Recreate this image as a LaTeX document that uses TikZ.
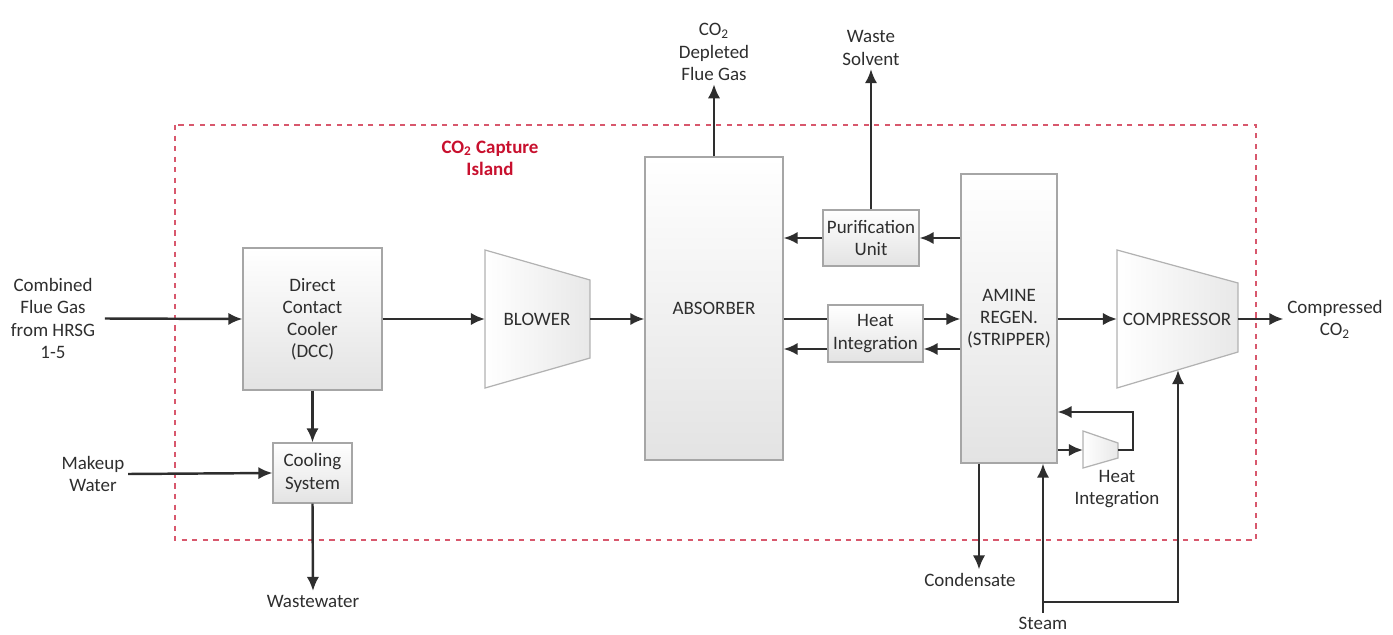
\documentclass[tikz,border=0pt]{standalone}
\usepackage{fontspec}
\setmainfont{Carlito}
\usetikzlibrary{arrows.meta,positioning}
\definecolor{linegray}{HTML}{2E2E2E}
\definecolor{islandred}{HTML}{C8102E}
\begin{document}
\begin{tikzpicture}[
    x=0.02cm, y=-0.02cm,
    font=\fontsize{10.8}{12.6}\selectfont,
    text=linegray,
    >={Latex[length=8pt,width=7pt]},
    % Stile per le unita di processo
    unit/.style={
        draw=gray!70,
        line width=0.7pt,
        top color=white,
        bottom color=gray!22,
        align=center,
        inner sep=2pt
    },
    % Stile per le macchine (trapezi)
    machine/.style={
        draw=gray!60,
        line width=0.7pt,
        left color=white,
        right color=gray!18
    },
    flow/.style={->, draw=linegray, line width=1.4pt},
    pipe/.style={draw=linegray, line width=1.4pt},
    label/.style={align=center, inner sep=2pt}
]
\useasboundingbox (0,0) rectangle (1393,635);

% --- Isola di cattura ---
\draw[islandred!70, dashed, line width=0.6pt] (175,125) rectangle (1256,540);
\node[label, text=islandred, font=\fontsize{10.8}{12.6}\selectfont\bfseries] (island) at (490,158) {CO\textsubscript{2} Capture\\Island};

% --- Unita ---
\node[unit, minimum width=2.78cm, minimum height=2.84cm] (dcc) at (312.5,319) {Direct\\Contact\\Cooler\\(DCC)};
\node[unit, minimum width=1.58cm, minimum height=1.2cm] (cooling) at (312.5,473) {Cooling\\System};
\node[unit, minimum width=2.76cm, minimum height=6.06cm] (absorber) at (714,308.5) {ABSORBER};
\node[unit, minimum width=1.92cm, minimum height=1.12cm] (purif) at (871,238) {Purification\\Unit};
\node[unit, minimum width=1.9cm, minimum height=1.14cm] (heat) at (875.5,333.5) {Heat\\Integration};
\node[unit, minimum width=1.92cm, minimum height=5.78cm] (stripper) at (1009,318.5) {AMINE\\REGEN.\\(STRIPPER)};

% --- Macchine ---
\draw[machine] (485,250) -- (590,280) -- (590,358) -- (485,388) -- cycle;
\node (blower) at (537,319) {BLOWER};
\coordinate (blowL) at (485,319);
\coordinate (blowR) at (590,319);

\draw[machine] (1117,250) -- (1238,283) -- (1238,352) -- (1117,388) -- cycle;
\node (compressor) at (1177,319) {COMPRESSOR};
\coordinate (compL) at (1117,319);
\coordinate (compR) at (1238,319);
\coordinate (compB) at (1178,370);

\draw[machine] (1083,431) -- (1118,443) -- (1118,458) -- (1083,468) -- cycle;
\node[label] (hiSmall) at (1117,489) {Heat\\Integration};
\coordinate (hiSmallL) at (1083,450);
\coordinate (hiSmallR) at (1118,450);

% --- Correnti esterne ---
\node[label] (feed) at (53,318.5) {Combined\\Flue Gas\\from HRSG\\1-5};
\node[label] (makeup) at (93,474) {Makeup\\Water};
\node[label] (wastewater) at (313,601) {Wastewater};
\node[label] (depleted) at (714,52) {CO\textsubscript{2}\\Depleted\\Flue Gas};
\node[label] (waste) at (871,48) {Waste\\Solvent};
\node[label] (condensate) at (970,580) {Condensate};
\node[label] (steam) at (1043,623) {Steam};
\node[label] (product) at (1335,319) {Compressed\\CO\textsubscript{2}};

% --- Linea gas ---
\draw[flow] (feed.east) ++(6,0) -- (dcc.west);
\draw[flow] (dcc.east) -- (blowL);
\draw[flow] (blowR) -- (absorber.west |- blowR);
\draw[flow] (absorber.north) -- (depleted.south);

% --- Raffreddamento ---
\draw[flow] (dcc.south) -- (cooling.north);
\draw[flow] (makeup.east) -- (cooling.west);
\draw[flow] (cooling.south) -- (wastewater.north);

% --- Solvente ---
\draw[flow] (stripper.west |- purif) -- (purif.east);
\draw[flow] (purif.west) -- (absorber.east |- purif);
\draw[flow] (purif.north) -- (waste.south);
\draw[pipe] (absorber.east |- 0,319) -- (heat.west |- 0,319);
\draw[flow] (heat.east |- 0,319) -- (stripper.west |- 0,319);
\draw[flow] (stripper.west |- 0,349) -- (heat.east |- 0,349);
\draw[flow] (heat.west |- 0,349) -- (absorber.east |- 0,349);

% --- Stripper e compressione ---
\draw[flow] (stripper.east |- compL) -- (compL);
\draw[flow] (compR) -- (product.west);
\draw[flow] (stripper.east |- hiSmallL) -- (hiSmallL);
\draw[flow] (hiSmallR) -- ++(15,0) |- (stripper.east |- 0,412);
\draw[flow] (stripper.south -| 979,0) -- (condensate.north -| 979,0);

% --- Vapore ---
\draw[flow] (steam.north) -- (stripper.south -| steam);
\coordinate (split) at (1043,602);
\draw[flow] (split) -| (compB);

\end{tikzpicture}
\end{document}
